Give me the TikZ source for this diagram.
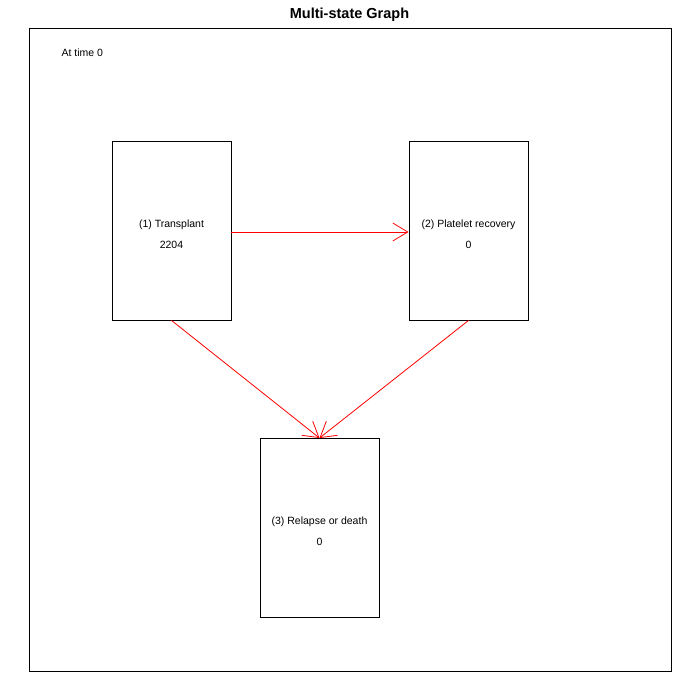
\documentclass[tikz,border=0pt]{standalone}
\usepackage{fontspec}
\setmainfont{Liberation Sans}
\usetikzlibrary{arrows.meta}

\begin{document}
\begin{tikzpicture}[x=1pt,y=-1pt,
  estado/.style={draw,line width=0.9pt,minimum width=119pt,minimum height=179pt,
    inner sep=0pt,align=center,font=\fontsize{10.5}{21}\selectfont},
  transicion/.style={red,line width=0.8pt,-{Straight Barb[length=15pt,width=18pt]}}]

% Marco
\useasboundingbox (0,0) rectangle (700,700);
\draw[line width=0.9pt] (29,28) rectangle (671,671);

% Titulos
\node[font=\bfseries\fontsize{14.5}{16}\selectfont] (titulo) at (349.5,15) {Multi-state Graph};
\node[anchor=west,font=\fontsize{10.5}{12}\selectfont] (tiempo) at (58,53) {At time 0};

% Estados
\node[estado] (trasplante) at (171.5,230.5) {\strut(1) Transplant\\2204};
\node[estado] (plaquetas) at (468.5,230.5) {\strut(2) Platelet recovery\\0};
\node[estado] (recaida) at (319.5,528) {\strut(3) Relapse or death\\0};

% Transiciones
\draw[transicion] ([yshift=-1.5pt]trasplante.east) -- ([yshift=-1.5pt]plaquetas.west);
\draw[transicion] (trasplante.south) -- (recaida.north);
\draw[transicion] (plaquetas.south) -- (recaida.north);

\end{tikzpicture}
\end{document}
